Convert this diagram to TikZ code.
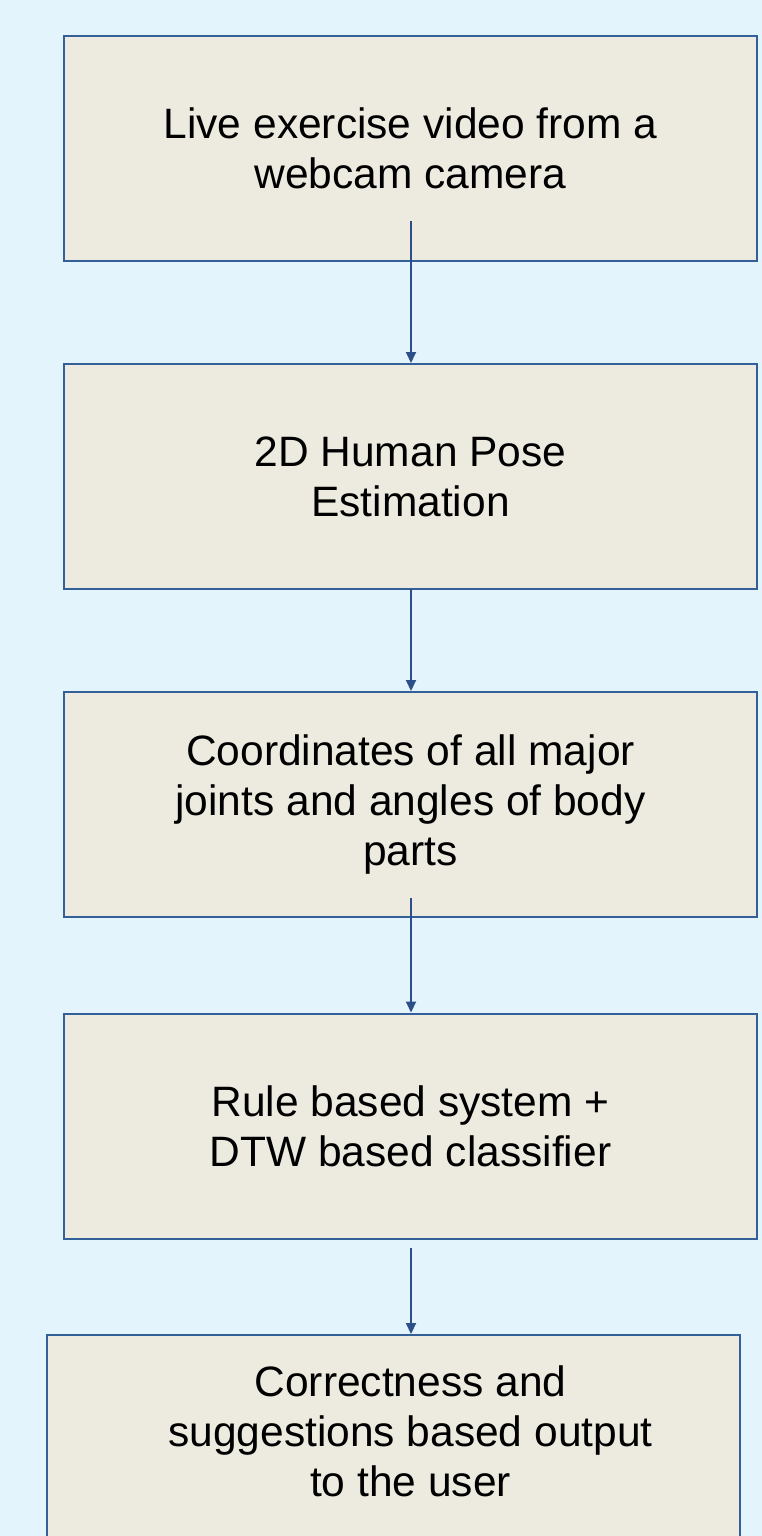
\documentclass[tikz,border=0pt]{standalone}
\usepackage{fontspec}
\setmainfont{Liberation Sans}
\usetikzlibrary{calc,arrows.meta}
\definecolor{bgblue}{HTML}{E3F4FD}
\definecolor{boxfill}{HTML}{EDEBE0}
\definecolor{boxline}{HTML}{34609A}
\definecolor{arrowcol}{HTML}{2B4F86}
\tikzset{
  stepbox/.style={draw=boxline, fill=boxfill, line width=2pt, minimum width=693pt, minimum height=225pt, inner sep=0pt, align=center, font=\fontsize{42.5}{50}\selectfont},
  boxtext/.style={align=center, inner sep=0pt, font=\fontsize{42.5}{50}\selectfont},
  flow/.style={draw=arrowcol, line width=2pt, -{Triangle[length=11pt,width=10pt]}}
}
\begin{document}
\begin{tikzpicture}[x=1pt,y=-1pt]
\useasboundingbox (0,0) rectangle (762,1536);
\clip (0,0) rectangle (762,1536);
\fill[bgblue] (0,0) rectangle (762,1536);
\node[stepbox] (b1) at (410.5,148.5) {Live exercise video from a\\webcam camera};
\node[stepbox] (b2) at (410.5,476.5) {2D Human Pose\\Estimation};
\node[stepbox] (b3) at (410.5,804.5) {Coordinates of all major\\joints and angles of body\\parts};
\node[stepbox] (b4) at (410.5,1126) {Rule based system +\\DTW based classifier};
\node[stepbox, minimum height=260pt] (b5) at (393,1465) {};
\node[boxtext] (t5) at (410.5,1431) {Correctness and\\suggestions based output\\to the user};
\coordinate (s1) at (411,221);
\coordinate (s2) at (411,589);
\coordinate (s3) at (411,898);
\coordinate (s4) at (411,1248);
\draw[flow] (s1) -- (s1 |- b2.north);
\draw[flow] (s2) -- (s2 |- b3.north);
\draw[flow] (s3) -- (s3 |- b4.north);
\draw[flow] (s4) -- (s4 |- b5.north);
\end{tikzpicture}
\end{document}
